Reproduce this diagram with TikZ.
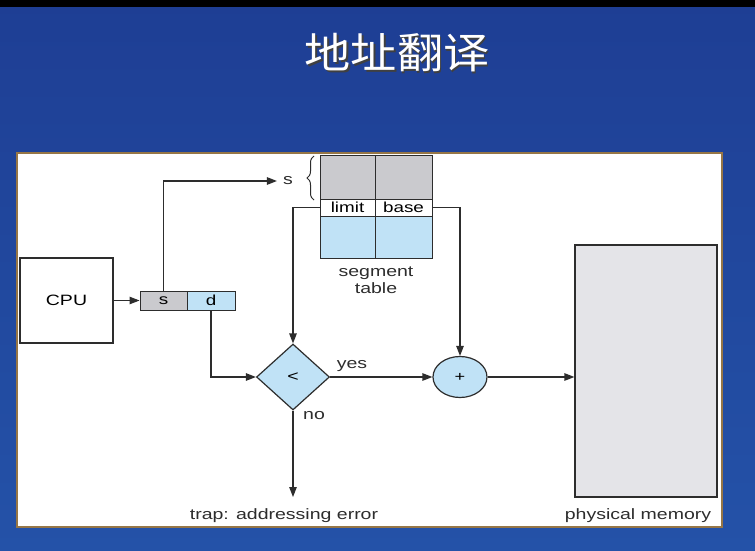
\documentclass[tikz,border=0pt]{standalone}
\usepackage{fontspec}
\setmainfont{Liberation Sans}
\newfontfamily\wide[FakeStretch=1.3]{Liberation Sans}
\newfontfamily\cjk[FakeStretch=1.1]{Noto Sans CJK SC}
\usetikzlibrary{arrows.meta,shapes.geometric,decorations.pathreplacing}
\definecolor{bgtop}{RGB}{30,62,148}
\definecolor{bgbot}{RGB}{36,82,168}
\definecolor{frame}{RGB}{150,118,70}
\definecolor{ln}{RGB}{45,45,45}
\definecolor{cellgray}{RGB}{202,202,206}
\definecolor{cellblue}{RGB}{192,226,246}
\definecolor{memgray}{RGB}{228,228,232}
\tikzset{
  ln/.style={draw=ln,line width=1.2pt},
  arr/.style={ln,-{Triangle[length=10pt,width=7.5pt]}},
  cell/.style={draw=ln,line width=1pt,minimum width=55pt,inner sep=0pt,font=\wide\fontsize{14.5}{16}\selectfont},
  lbl/.style={font=\wide\fontsize{15}{17}\selectfont,text=ln,inner sep=0pt},
  ttl/.style={font=\cjk\fontsize{42}{44}\selectfont,inner sep=0pt},
}
\begin{document}
\begin{tikzpicture}[x=1pt,y=-1pt]
\useasboundingbox (0,0) rectangle (755,551);
\shade[top color=bgtop,bottom color=bgbot] (0,0) rectangle (755,551);
\fill[black] (0,0) rectangle (755,7);
% title
\node (shadow) [ttl,text=black!75] at (398.5,54.5) {地址翻译};
\node (title) [ttl,text=white] at (397,53) {地址翻译};
% panel
\draw[fill=white,draw=frame,line width=2.5pt] (17,153) rectangle (722,527);
% CPU
\node (cpu) [ln,fill=white,minimum width=93pt,minimum height=85pt,inner sep=0pt,font=\wide\fontsize{15}{17}\selectfont] at (66.5,300.5) {CPU};
% logical address
\node (sbox) [cell,fill=cellgray,minimum width=47pt,minimum height=19pt] at (163.5,300.5) {s};
\node (dbox) [cell,fill=cellblue,minimum width=48pt,minimum height=19pt] at (211,300.5) {d};
% segment table
\node (g1) [cell,fill=cellgray,minimum height=44pt] at (347.5,177) {};
\node (g2) [cell,fill=cellgray,minimum width=57pt,minimum height=44pt] at (403.5,177) {};
\node (lim) [cell,fill=white,minimum height=17pt] at (347.5,207.5) {limit};
\node (bas) [cell,fill=white,minimum width=57pt,minimum height=17pt] at (403.5,207.5) {base};
\node (b1) [cell,fill=cellblue,minimum height=42pt] at (347.5,237) {};
\node (b2) [cell,fill=cellblue,minimum width=57pt,minimum height=42pt] at (403.5,237) {};
\node (segt) [lbl,align=center] at (376,280) {segment\\[0pt]table};
\node (slab) [lbl,anchor=center] at (288,181) {s};
\draw[ln,line width=1pt,decorate,decoration={brace,amplitude=7pt}] (314,200) -- (314,156);
% comparator and adder
\node (lt) [diamond,ln,fill=cellblue,minimum width=73pt,minimum height=66pt,inner sep=0pt,font=\wide\fontsize{15}{17}\selectfont] at (293,377) {<};
\node (plus) [ellipse,ln,fill=cellblue,minimum width=54pt,minimum height=41pt,inner sep=0pt,font=\wide\fontsize{14}{16}\selectfont] at (460,377) {+};
% physical memory
\node (mem) [ln,fill=memgray,minimum width=142pt,minimum height=252pt,inner sep=0pt] at (646,371) {};
\node (meml) [lbl] at (638,516) {physical memory};
\node (trap) [lbl] at (284,516) {trap: addressing error};
\coordinate (trapend) at (293,497);
\node (yes) [lbl] at (352,366) {yes};
\node (no) [lbl] at (314,416) {no};
% connectors
\draw[arr] (cpu.east) -- (sbox.west);
\draw[arr] (sbox.north) |- ([xshift=-6pt]slab.west);
\draw[arr] (lim.west) -| (lt.north);
\draw[arr] (bas.east) -| (plus.north);
\draw[arr] (dbox.south) |- (lt.west);
\draw[arr] (lt.east) -- (plus.west);
\draw[arr] (lt.south) -- (trapend);
\draw[arr] (plus.east) -- (plus.east -| mem.west);
\end{tikzpicture}
\end{document}
